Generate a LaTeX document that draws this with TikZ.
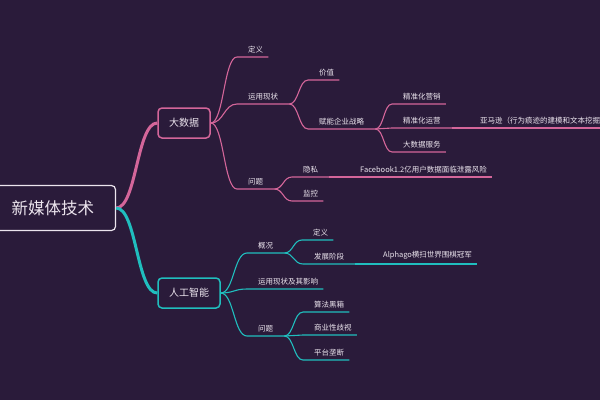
\documentclass[tikz,border=0pt]{standalone}
\usepackage{fontspec}
\newfontfamily\cjk{Noto Sans CJK SC}
\usetikzlibrary{calc}
\definecolor{bgpurple}{RGB}{42,27,58}
\definecolor{rose}{RGB}{212,102,154}
\definecolor{teal2}{RGB}{32,190,190}
\definecolor{paper}{RGB}{236,229,238}
\begin{document}
\begin{tikzpicture}
  [x=1pt,y=-1pt,every node/.style={text=paper,font=\cjk\fontsize{7.5}{9}\selectfont}]
  \tikzstyle{topic} = [anchor=south west,inner xsep=0pt,inner ysep=4pt,execute at begin node=\hspace*{11pt}]
  \tikzstyle{fork} = [topic,execute at end node=\hspace*{11pt}]
  \tikzstyle{leaf} = [topic,execute at end node=\hspace*{5pt}]
  \tikzstyle{branch} = [draw,rounded corners=4pt,fill=bgpurple,line width=1.5pt,minimum height=30pt,inner xsep=11pt,font=\cjk\fontsize{10}{12}\selectfont]
  \tikzstyle{link} = [to path={let \p1=(\tikztostart),\p2=(\tikztotarget) in .. controls ({(\x1+\x2)/2},\y1) and ({(\x1+\x2)/2},\y2) .. (\tikztotarget)}]
  \useasboundingbox (0,0) rectangle (600,400);
  \fill[bgpurple] (0,0) rectangle (600,400);

  \node[draw=paper,rounded corners=4pt,line width=1.2pt,minimum width=125pt,minimum height=45pt,font=\cjk\fontsize{16.5}{18}\selectfont] (root) at (53,208) {新媒体技术};
  \node[branch,draw=rose] (dsj) at (184,123) {大数据};
  \node[branch,draw=teal2] (rgzn) at (189,293) {人工智能};

  \node[leaf] (dy) at (237,57) {定义};
  \node[fork] (yyxz) at (237,104) {运用现状};
  \node[leaf] (jz) at (308,80) {价值};
  \node[fork] (fn) at (308,129) {赋能企业战略};
  \node[leaf] (yx) at (392,104) {精准化营销};
  \node[fork] (yy) at (392,128) {精准化运营};
  \node[leaf] (amz) at (469,128) {亚马逊（行为痕迹的建模和文本挖掘）};
  \node[leaf] (fw) at (392,152) {大数据服务};
  \node[fork] (wt) at (237,189) {问题};
  \node[fork] (ys) at (292,177) {隐私};
  \node[leaf] (fb) at (349,177) {Facebook1.2亿用户数据面临泄露风险};
  \node[leaf] (jk) at (292,201) {监控};

  \node[fork] (gk) at (247,253) {概况};
  \node[leaf] (dy2) at (302,240) {定义};
  \node[fork] (fz) at (303,264) {发展阶段};
  \node[leaf] (ag) at (372,264) {Alphago横扫世界围棋冠军};
  \node[leaf] (yy2) at (247,289) {运用现状及其影响};
  \node[fork] (wt2) at (247,336) {问题};
  \node[leaf] (sf) at (303,312) {算法黑箱};
  \node[leaf] (sy) at (303,335) {商业性歧视};
  \node[leaf] (pt) at (303,360) {平台垄断};

  \draw[rose,line width=3pt] (root.east) to[link] (dsj.west);
  \draw[teal2,line width=3pt] (root.east) to[link] (rgzn.west);

\foreach \source /\dest in {dsj.east/dy,dsj.east/yyxz,dsj.east/wt,yyxz.south east/jz,yyxz.south east/fn,
    fn.south east/yx,fn.south east/yy,fn.south east/fw,yy.south east/amz,wt.south east/ys,wt.south east/jk,ys.south east/fb}
   \draw[rose,line width=1.1pt] (\source) to[link] (\dest.south west) -- (\dest.south east);

\foreach \source /\dest in {rgzn.east/gk,rgzn.east/yy2,rgzn.east/wt2,gk.south east/dy2,gk.south east/fz,
    fz.south east/ag,wt2.south east/sf,wt2.south east/sy,wt2.south east/pt}
   \draw[teal2,line width=1.1pt] (\source) to[link] (\dest.south west) -- (\dest.south east);

  \end{tikzpicture}
\end{document}
